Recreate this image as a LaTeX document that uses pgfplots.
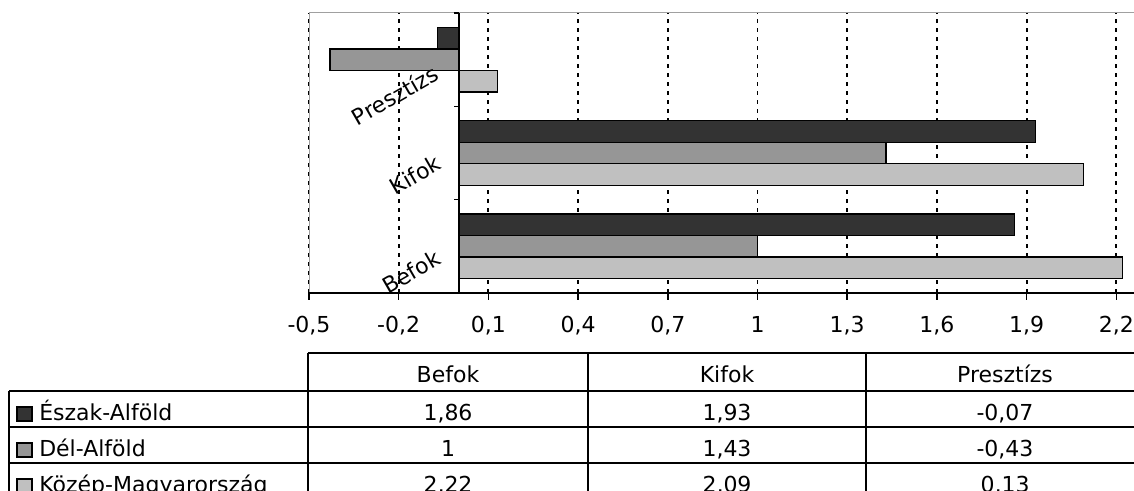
\documentclass[border=0pt]{standalone}
\usepackage{pgfplots}
\pgfplotsset{compat=1.18}
\usepackage{fontspec}
\setmainfont{DejaVu Sans}

\definecolor{cDark}{HTML}{333333}
\definecolor{cMid}{HTML}{969696}
\definecolor{cLight}{HTML}{C0C0C0}
\definecolor{cBorder}{HTML}{A0A0A0}

\newcommand{\lab}{\fontsize{16.5}{19}\selectfont}

\begin{document}
\lab
\begin{tikzpicture}
\begin{axis}[
    at={(231.75pt,-219.75pt)}, anchor=south west,
    scale only axis,
    width=627.9pt, height=210pt,
    xbar, bar width=0.23,
    xmin=-0.5, xmax=2.3, ymin=-0.5, ymax=2.5,
    xtick={-0.5,-0.2,0.1,0.4,0.7,1,1.3,1.6,1.9,2.2},
    xticklabels={{-0,5},{-0,2},{0,1},{0,4},{0,7},{1},{1,3},{1,6},{1,9},{2,2}},
    ytick=\empty,
    xtick pos=bottom, tick align=outside, major tick length=5.25pt,
    xtick style={black, line width=1.1pt},
    xticklabel style={yshift=-6.5pt},
    xmajorgrids,
    grid style={black, line width=1.4pt, dash pattern=on 3pt off 3.75pt},
    axis line style={cBorder, line width=0.75pt},
    tick label style={font=\lab},
    /pgf/number format/assume math mode=true,
    clip=false,
]
% Észak-Alföld
\addplot[fill=cDark, draw=black, line width=1pt, bar shift=0.23]
    coordinates {(1.86,0) (1.93,1) (-0.07,2)};
% Dél-Alföld
\addplot[fill=cMid, draw=black, line width=1pt, bar shift=0]
    coordinates {(1,0) (1.43,1) (-0.43,2)};
% Közép-Magyarország
\addplot[fill=cLight, draw=black, line width=1pt, bar shift=-0.23]
    coordinates {(2.22,0) (2.09,1) (0.13,2)};

\draw[black, line width=1.5pt] (axis cs:-0.5,-0.5) -- (axis cs:2.3,-0.5);
\draw[black, line width=1.5pt] (axis cs:0,-0.5) -- (axis cs:0,2.5);
\draw[black, line width=1.1pt] (axis cs:0,0.5) -- ([xshift=-3.75pt]axis cs:0,0.5);
\draw[black, line width=1.1pt] (axis cs:0,1.5) -- ([xshift=-3.75pt]axis cs:0,1.5);
\draw[black, line width=1.1pt] (axis cs:0,2.5) -- ([xshift=-3.75pt]axis cs:0,2.5);
\end{axis}

\begin{scope}[x=0.75pt, y=-0.75pt]
  % category labels
  \node[rotate=30, inner sep=0pt] at (411,272) {Befok};
  \node[rotate=30, inner sep=0pt] at (415,175) {Kifok};
  \node[rotate=30, inner sep=0pt] at (395,95) {Presztízs};

  % data table
  \begin{scope}[line width=1.1pt]
    \draw (308,353) -- (1150,353);
    \draw (9,391) -- (1150,391);
    \draw (9,427) -- (1150,427);
    \draw (9,463) -- (1150,463);
    \draw (9,391) -- (9,500);
    \draw (308,353) -- (308,500);
    \draw (588,353) -- (588,500);
    \draw (866,353) -- (866,500);
  \end{scope}

  \node[anchor=base] at (448,382) {Befok};
  \node[anchor=base] at (727,382) {Kifok};
  \node[anchor=base] at (1005,382) {Presztízs};

  \node[anchor=base] at (448,420) {1,86};
  \node[anchor=base] at (727,420) {1,93};
  \node[anchor=base] at (1005,420) {-0,07};
  \node[anchor=base] at (448,456) {1};
  \node[anchor=base] at (727,456) {1,43};
  \node[anchor=base] at (1005,456) {-0,43};
  \node[anchor=base] at (448,492) {2,22};
  \node[anchor=base] at (727,492) {2,09};
  \node[anchor=base] at (1005,492) {0,13};

  \draw[fill=cDark, line width=0.9pt] (17,407) rectangle (32,421);
  \draw[fill=cMid, line width=0.9pt] (17,443) rectangle (32,457);
  \draw[fill=cLight, line width=0.9pt] (17,479) rectangle (32,493);
  \node[anchor=base west, inner sep=0pt] at (39,420) {Észak-Alföld};
  \node[anchor=base west, inner sep=0pt] at (39,456) {Dél-Alföld};
  \node[anchor=base west, inner sep=0pt] at (39,492) {Közép-Magyarország};
\end{scope}

\pgfresetboundingbox
\path[use as bounding box] (0,0) rectangle (850.5pt,-368.25pt);
\end{tikzpicture}
\end{document}
